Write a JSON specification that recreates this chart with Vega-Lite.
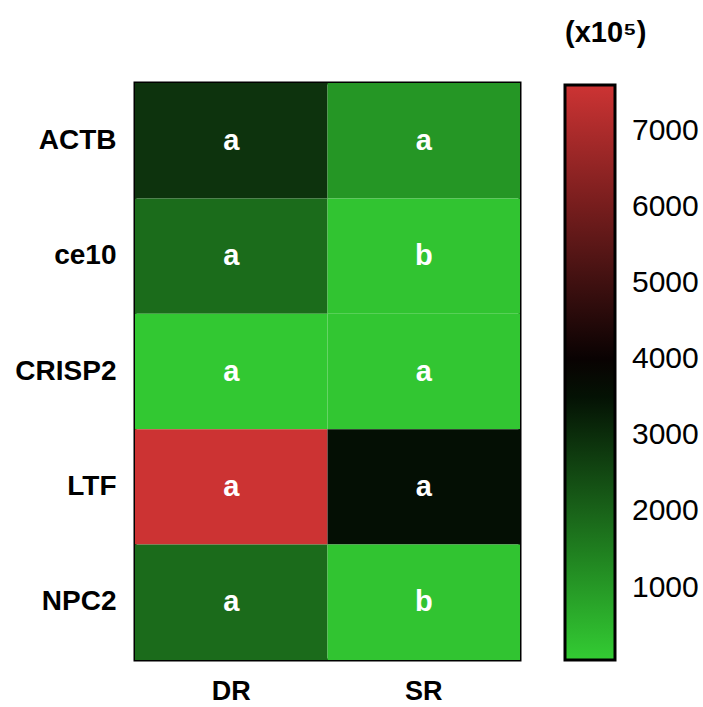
{
  "$schema": "https://vega.github.io/schema/vega-lite/v6.json",
  "width": 385,
  "height": 577,
  "padding": {"left": 14, "top": 19, "right": 0, "bottom": 0},
  "background": "white",
  "config": {
    "font": "Liberation Sans",
    "view": {"stroke": "black", "strokeWidth": 3}
  },
  "data": {
    "values": [
      {"gene": "ACTB", "group": "DR", "value": 2880, "letter": "a"},
      {"gene": "ACTB", "group": "SR", "value": 1050, "letter": "a"},
      {"gene": "ce10", "group": "DR", "value": 1830, "letter": "a"},
      {"gene": "ce10", "group": "SR", "value": 200, "letter": "b"},
      {"gene": "CRISP2", "group": "DR", "value": 120, "letter": "a"},
      {"gene": "CRISP2", "group": "SR", "value": 160, "letter": "a"},
      {"gene": "LTF", "group": "DR", "value": 7600, "letter": "a"},
      {"gene": "LTF", "group": "SR", "value": 3550, "letter": "a"},
      {"gene": "NPC2", "group": "DR", "value": 1840, "letter": "a"},
      {"gene": "NPC2", "group": "SR", "value": 200, "letter": "b"}
    ]
  },
  "encoding": {
    "x": {
      "field": "group", "type": "nominal", "sort": ["DR", "SR"],
      "scale": {"paddingInner": 0, "paddingOuter": 0},
      "axis": {"title": null, "labelAngle": 0, "ticks": false, "domain": false,
               "labelFont": "Liberation Sans", "labelFontWeight": "bold", "labelFontSize": 27,
               "labelColor": "black", "labelPadding": 18}
    },
    "y": {
      "field": "gene", "type": "nominal", "sort": ["ACTB", "ce10", "CRISP2", "LTF", "NPC2"],
      "scale": {"paddingInner": 0, "paddingOuter": 0},
      "axis": {"title": null, "ticks": false, "domain": false,
               "labelFont": "Liberation Sans", "labelFontWeight": "bold", "labelFontSize": 28,
               "labelColor": "black", "labelPadding": 19}
    }
  },
  "layer": [
    {
      "mark": {"type": "rect"},
      "encoding": {
        "color": {
          "field": "value", "type": "quantitative",
          "scale": {"domain": [50, 3825, 7600], "range": ["#33cc33", "#000000", "#cc3333"], "interpolate": "rgb"},
          "legend": {
            "orient": "none", "legendX": 430, "legendY": -64,
            "title": "(x10⁵)", "titleFontSize": 29, "titleFontWeight": "bold", "titleColor": "black",
            "titleFont": "Liberation Sans", "titlePadding": 37, "titleAnchor": "start",
            "gradientLength": 575, "gradientThickness": 50,
            "gradientStrokeColor": "black", "gradientStrokeWidth": 3,
            "values": [1000, 2000, 3000, 4000, 5000, 6000, 7000], "format": "d",
            "labelFontSize": 30, "labelColor": "black", "labelFont": "Liberation Sans",
            "labelOffset": 17, "padding": 0
          }
        }
      }
    },
    {
      "mark": {"type": "text", "color": "white", "fontWeight": "bold", "fontSize": 29, "font": "Liberation Sans", "baseline": "middle"},
      "encoding": {"text": {"field": "letter"}}
    }
  ]
}
